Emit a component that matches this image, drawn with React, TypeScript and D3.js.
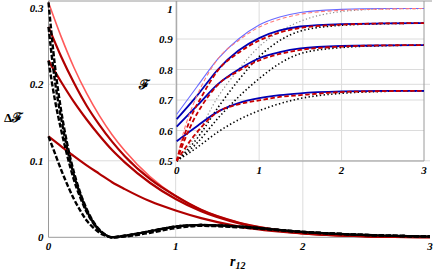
import * as d3 from "d3";

const W = 436;
const H = 272;

// main plot: ΔF against r12
const mainX = [0, 0.1, 0.2, 0.3, 0.4, 0.5, 0.6, 0.8, 1.0, 1.2, 1.5, 2.0, 2.5, 3.0];
const redSolid1 = [0.307, 0.262, 0.222, 0.188, 0.159, 0.134, 0.113, 0.079, 0.054, 0.036, 0.019, 0.006, 0.0015, 0.0003];
const redSolid2 = [0.275, 0.236, 0.202, 0.172, 0.147, 0.125, 0.106, 0.076, 0.054, 0.036, 0.019, 0.006, 0.0015, 0.0003];
const redSolid3 = [0.231, 0.203, 0.177, 0.154, 0.133, 0.114, 0.098, 0.071, 0.050, 0.034, 0.018, 0.005, 0.0013, 0.0003];
const redSolid4 = [0.132, 0.119, 0.106, 0.094, 0.083, 0.072, 0.063, 0.047, 0.035, 0.025, 0.014, 0.005, 0.0013, 0.0003];

const dashX = [0, 0.05, 0.1, 0.15, 0.2, 0.25, 0.3, 0.35, 0.4, 0.45, 0.5, 0.6, 0.8, 1.0, 1.2, 1.5, 2.0, 2.5, 3.0];
const blackDash1 = [0.307, 0.225, 0.165, 0.12, 0.085, 0.058, 0.037, 0.021, 0.01, 0.003, 0.0, 0.002, 0.008, 0.014, 0.016, 0.014, 0.007, 0.003, 0.001];
const blackDash2 = [0.275, 0.205, 0.155, 0.114, 0.081, 0.056, 0.035, 0.02, 0.009, 0.003, 0.0, 0.002, 0.008, 0.014, 0.016, 0.014, 0.007, 0.003, 0.001];
const blackDash3 = [0.231, 0.18, 0.14, 0.105, 0.075, 0.052, 0.033, 0.019, 0.009, 0.003, 0.0, 0.002, 0.008, 0.014, 0.016, 0.014, 0.007, 0.003, 0.001];
const blackDash4 = [0.132, 0.11, 0.088, 0.068, 0.05, 0.035, 0.022, 0.013, 0.006, 0.002, 0.0, 0.001, 0.006, 0.012, 0.015, 0.013, 0.007, 0.003, 0.001];

// inset: F against r12
const insetX = [0, 0.25, 0.5, 0.75, 1.0, 1.25, 1.5, 2.0, 2.5, 3.0];
const blue1 = [0.653, 0.745, 0.835, 0.9, 0.946, 0.972, 0.987, 0.997, 1.0, 1.0];
const blue2 = [0.637, 0.715, 0.8, 0.862, 0.903, 0.928, 0.941, 0.949, 0.951, 0.952];
const blue3 = [0.613, 0.682, 0.752, 0.8, 0.837, 0.857, 0.869, 0.877, 0.879, 0.88];
const blue4 = [0.565, 0.615, 0.662, 0.69, 0.706, 0.716, 0.722, 0.728, 0.73, 0.73];
const dotted1 = [0.5, 0.59, 0.71, 0.8, 0.875, 0.925, 0.958, 0.99, 0.998, 1.0];
const dotted2 = [0.5, 0.575, 0.675, 0.765, 0.842, 0.895, 0.926, 0.945, 0.95, 0.952];
const dotted3 = [0.5, 0.56, 0.64, 0.71, 0.77, 0.82, 0.852, 0.872, 0.878, 0.88];
const dotted4 = [0.5, 0.545, 0.595, 0.635, 0.665, 0.688, 0.705, 0.722, 0.728, 0.73];

const redDashX = [0, 0.05, 0.1, 0.15, 0.2, 0.3, 0.4, 0.5, 0.75, 1.0, 1.25, 1.5, 2.0, 2.5, 3.0];
const redDash1 = [0.5, 0.56, 0.61, 0.65, 0.685, 0.745, 0.795, 0.835, 0.895, 0.939, 0.965, 0.981, 0.994, 0.998, 1.0];
const redDash2 = [0.5, 0.55, 0.59, 0.627, 0.66, 0.71, 0.757, 0.797, 0.855, 0.895, 0.921, 0.936, 0.947, 0.951, 0.952];
const redDash3 = [0.5, 0.537, 0.572, 0.603, 0.632, 0.679, 0.718, 0.75, 0.795, 0.83, 0.851, 0.864, 0.875, 0.879, 0.88];
const redDash4 = [0.5, 0.521, 0.541, 0.561, 0.579, 0.611, 0.64, 0.661, 0.686, 0.699, 0.71, 0.716, 0.726, 0.729, 0.73];

const mainYTicks = [0, 0.1, 0.2, 0.3];
const mainXTicks = [0, 1, 2, 3];
const insetYTicks = [0.5, 0.6, 0.7, 0.8, 0.9, 1];
const insetXTicks = [0, 1, 2, 3];

const x = d3.scaleLinear().domain([0, 3]).range([48.5, 430]);
const y = d3.scaleLinear().domain([0, 0.1]).range([237.3, 160.8]);
const ix = d3.scaleLinear().domain([0, 3]).range([176.7, 424]);
const iy = d3.scaleLinear().domain([0.5, 1]).range([161, 8.5]);

const font = "'Liberation Serif', 'Times New Roman', serif";
const grid = "#dcdcdc";
const axis = "#9a9a9a";
const darkRed = "#b00000";
const lightRed = "#ff5a5a";

function path(xs: number[], ys: number[], sx: d3.ScaleLinear<number, number>, sy: d3.ScaleLinear<number, number>) {
  const line = d3
    .line<number>()
    .x((_, i) => sx(xs[i]))
    .y((d) => sy(d))
    .curve(d3.curveMonotoneX);
  return line(ys) || "";
}

const labelStyle = { fontFamily: font, fontWeight: "bold" as const, fontStyle: "italic" as const, fontSize: 11 };

export default function App() {
  const redMain = [redSolid4, redSolid3, redSolid2];
  const dashMain = [blackDash4, blackDash3, blackDash2, blackDash1];
  const blues = [blue2, blue3, blue4];
  const dots = [dotted2, dotted3, dotted4];
  const redDashes = [redDash2, redDash3, redDash4];
  return (
    <svg width={W} height={H} style={{ position: "absolute", left: 0, top: 0, background: "#fff" }}>
      {/* main grid */}
      {[0.1, 0.2].map((t) => (
        <line key={"gy" + t} x1={x(0)} x2={x(3)} y1={y(t)} y2={y(t)} stroke={grid} strokeWidth={1} />
      ))}
      {[1, 2].map((t) => (
        <line key={"gx" + t} x1={x(t)} x2={x(t)} y1={1} y2={y(0)} stroke={grid} strokeWidth={1} />
      ))}
      <line x1={x(0)} x2={432} y1={1} y2={1} stroke={axis} strokeWidth={1} />
      <line x1={x(0)} x2={x(0)} y1={1} y2={y(0)} stroke={axis} strokeWidth={1} />
      <line x1={x(0)} x2={x(3)} y1={y(0)} y2={y(0)} stroke={axis} strokeWidth={1} />

      {/* inset grid and frame */}
      {[0.6, 0.7, 0.8, 0.9].map((t) => (
        <line key={"igy" + t} x1={ix(0)} x2={ix(3)} y1={iy(t)} y2={iy(t)} stroke={grid} strokeWidth={1} />
      ))}
      {[1, 2].map((t) => (
        <line key={"igx" + t} x1={ix(t)} x2={ix(t)} y1={1} y2={iy(0.5)} stroke={grid} strokeWidth={1} />
      ))}
      <line x1={ix(0)} x2={ix(0)} y1={1} y2={iy(0.5)} stroke={axis} strokeWidth={1} />
      <line x1={ix(0)} x2={ix(3)} y1={iy(0.5)} y2={iy(0.5)} stroke={axis} strokeWidth={1} />
      <line x1={ix(3)} x2={ix(3)} y1={1} y2={iy(0.5)} stroke={axis} strokeWidth={1} />

      {/* main curves */}
      <path d={path(mainX, redSolid1, x, y)} fill="none" stroke={lightRed} strokeWidth={1.6} />
      {redMain.map((s, i) => (
        <path key={"rm" + i} d={path(mainX, s, x, y)} fill="none" stroke={darkRed} strokeWidth={2.2} />
      ))}
      {dashMain.map((s, i) => (
        <path key={"bd" + i} d={path(dashX, s, x, y)} fill="none" stroke="#000" strokeWidth={2.4} strokeDasharray="5,2" />
      ))}

      {/* inset curves */}
      <path d={path(insetX, dotted1, ix, iy)} fill="none" stroke="#8a8a8a" strokeWidth={1.2} strokeDasharray="1.2,2.3" />
      {dots.map((s, i) => (
        <path key={"dt" + i} d={path(insetX, s, ix, iy)} fill="none" stroke="#000" strokeWidth={1.6} strokeDasharray="1.4,2.4" />
      ))}
      <path d={path(insetX, blue1, ix, iy)} fill="none" stroke="#6a6aff" strokeWidth={1.1} />
      {blues.map((s, i) => (
        <path key={"bl" + i} d={path(insetX, s, ix, iy)} fill="none" stroke="#0000b4" strokeWidth={1.8} />
      ))}
      <path d={path(redDashX, redDash1, ix, iy)} fill="none" stroke="#ff7a7a" strokeWidth={1.1} strokeDasharray="4,2.5" />
      {redDashes.map((s, i) => (
        <path key={"rd" + i} d={path(redDashX, s, ix, iy)} fill="none" stroke="#c80000" strokeWidth={1.8} strokeDasharray="4.5,2.5" />
      ))}

      {/* main tick labels */}
      {mainYTicks.map((t) => (
        <text key={"my" + t} x={x(0) - 5} y={y(t) + 4} textAnchor="end" style={labelStyle}>
          {String(t)}
        </text>
      ))}
      {mainXTicks.map((t) => (
        <text key={"mx" + t} x={x(t)} y={y(0) + 13} textAnchor="middle" style={labelStyle}>
          {String(t)}
        </text>
      ))}

      {/* inset tick labels */}
      {insetYTicks.map((t) => (
        <text key={"iy" + t} x={ix(0) - 4} y={iy(t) + 4} textAnchor="end" style={labelStyle}>
          {String(t)}
        </text>
      ))}
      {insetXTicks.map((t) => (
        <text key={"ix" + t} x={ix(t)} y={iy(0.5) + 13} textAnchor="middle" style={labelStyle}>
          {String(t)}
        </text>
      ))}

      {/* axis labels */}
      <text x={4} y={122} style={{ ...labelStyle, fontStyle: "normal", fontSize: 13 }}>
        Δℱ
      </text>
      <text x={139} y={89} style={{ ...labelStyle, fontStyle: "normal", fontSize: 13 }}>
        ℱ
      </text>
      <text x={230} y={266} style={{ ...labelStyle, fontSize: 14 }}>
        r<tspan fontSize={10} dy={3}>12</tspan>
      </text>
    </svg>
  );
}
